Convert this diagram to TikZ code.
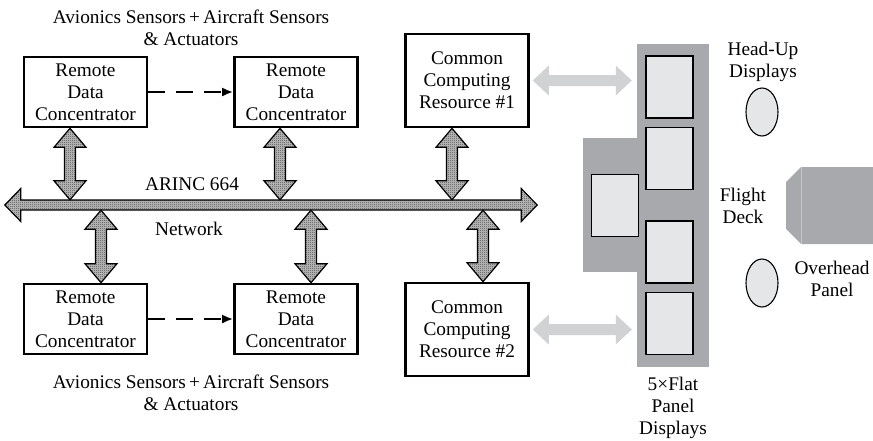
\documentclass[tikz,border=0pt]{standalone}
\usepackage{fontspec}
\setmainfont{Liberation Serif}
\usetikzlibrary{shapes.geometric,arrows.meta,calc,patterns.meta}
\definecolor{panelgray}{HTML}{A8A9AC}
\definecolor{screen}{HTML}{E5E6E8}
\definecolor{lightarrow}{HTML}{D1D2D4}
\tikzdeclarepattern{
  name=chk, type=uncolored,
  bottom left={(0pt,0pt)}, top right={(2pt,2pt)}, tile size={(2pt,2pt)},
  code={\fill (0pt,0pt) rectangle (1pt,1pt); \fill (1pt,1pt) rectangle (2pt,2pt);}
}
\newcommand{\fath}[6]{\path[#1] let \p1=(#2), \p2=(#3) in
  (\x1,\y1) -- (\x1+#6pt,\y1+#5pt) -- (\x1+#6pt,\y1+#4pt) -- (\x2-#6pt,\y1+#4pt) -- (\x2-#6pt,\y1+#5pt) -- (\x2,\y1)
  -- (\x2-#6pt,\y1-#5pt) -- (\x2-#6pt,\y1-#4pt) -- (\x1+#6pt,\y1-#4pt) -- (\x1+#6pt,\y1-#5pt) -- cycle;}
\newcommand{\fatv}[6]{\path[#1] let \p1=(#2), \p2=(#3) in
  (\x1,\y1) -- (\x1+#5pt,\y1-#6pt) -- (\x1+#4pt,\y1-#6pt) -- (\x1+#4pt,\y2+#6pt) -- (\x1+#5pt,\y2+#6pt) -- (\x1,\y2)
  -- (\x1-#5pt,\y2+#6pt) -- (\x1-#4pt,\y2+#6pt) -- (\x1-#4pt,\y1-#6pt) -- (\x1-#5pt,\y1-#6pt) -- cycle;}
\tikzset{
  txt/.style={font=\fontsize{19.3}{22}\selectfont, align=center, inner sep=0pt},
  box/.style={txt, draw, line width=2.6pt, minimum width=123pt, minimum height=70pt},
  ccrbox/.style={box, minimum height=93pt},
  fatarrow/.style={draw=black, line width=1.2pt, line join=miter, preaction={fill=gray!45}, pattern=chk, pattern color=black!90},
  lightarr/.style={fill=lightarrow, draw=none},
  busnode/.style={minimum width=532pt, minimum height=10pt, inner sep=0pt, draw=none},
  panelbox/.style={fill=panelgray, draw=none, inner sep=0pt},
  screenbox/.style={fill=screen, draw=black, line width=1.2pt, minimum width=47pt, minimum height=62pt, inner sep=0pt},
  hud/.style={ellipse, fill=screen, draw=black, line width=1.1pt, minimum width=32pt, minimum height=48pt, inner sep=0pt},
  dasharrow/.style={line width=2.3pt, dash pattern=on 17pt off 11pt, -{Latex[length=11pt,width=9pt]}}
}
\begin{document}
\begin{tikzpicture}[x=1pt,y=-1pt]
\useasboundingbox (0,0) rectangle (873,440);
% boxes
\node[box] (rdcA) at (85.5,92) {Remote\\Data\\Concentrator};
\node[box] (rdcB) at (296,92) {Remote\\Data\\Concentrator};
\node[ccrbox] (ccr1) at (467,80.5) {Common\\Computing\\Resource \#1};
\node[box] (rdcC) at (85.5,319) {Remote\\Data\\Concentrator};
\node[box] (rdcD) at (296,319) {Remote\\Data\\Concentrator};
\node[ccrbox] (ccr2) at (467,329.5) {Common\\Computing\\Resource \#2};
% captions
\node[txt] (capT) at (191,27.5) {Avionics Sensors\,+\,Aircraft Sensors\\\& Actuators};
\node[txt] (capB) at (191,393) {Avionics Sensors\,+\,Aircraft Sensors\\\& Actuators};
% dashed
\draw[dasharrow] (rdcA.east) -- (rdcB.west);
\draw[dasharrow] (rdcC.east) -- (rdcD.west);
% bus
\node[busnode] (bus) at (271,205) {};
\fath{fatarrow}{bus.west}{bus.east}{5}{16.5}{16}
\node[txt] (arinc) at (192,184) {ARINC 664};
\node[txt] (net) at (189,229) {Network};
% vertical arrows
\fatv{fatarrow}{$(rdcA.south)+(-15.5,0)$}{bus.north}{5.5}{16}{19}
\fatv{fatarrow}{$(rdcB.south)+(-16,0)$}{bus.north}{5.5}{16}{19}
\fatv{fatarrow}{$(ccr1.south)+(-15,0)$}{bus.north}{5.5}{16}{19}
\fatv{fatarrow}{$(rdcC.north |- bus.south)+(15.5,0)$}{rdcC.north}{5.5}{16}{19}
\fatv{fatarrow}{$(rdcD.north |- bus.south)+(15,0)$}{rdcD.north}{5.5}{16}{19}
\fatv{fatarrow}{$(ccr2.north |- bus.south)+(16,0)$}{ccr2.north}{5.5}{16}{19}
% panel
\node[panelbox, minimum width=72pt, minimum height=323pt] (panel) at (673,205.5) {};
\node[panelbox, minimum width=56pt, minimum height=134pt] (ext) at (611,205) {};
\node[screenbox] (d1) at (669.5,87) {};
\node[screenbox] (d2) at (669.5,158.5) {};
\node[screenbox] (d3) at (615,205.5) {};
\node[screenbox] (d4) at (669.5,252) {};
\node[screenbox] (d5) at (669.5,323.5) {};
% light arrows
\fath{lightarr}{$(ccr1.east)+(3,0)$}{$(panel.west |- ccr1.east)+(-5,0)$}{5.5}{15}{16}
\fath{lightarr}{$(ccr2.east)+(3,0)$}{$(panel.west |- ccr2.east)+(-5,0)$}{5.5}{15}{16}
\node[txt] (flat) at (673,408) {5×Flat\\Panel\\Displays};
% flight deck
\node[hud] (hud1) at (762,112) {};
\node[hud] (hud2) at (762,283) {};
\fill[panelgray] (801,167) -- (873,167) -- (873,244) -- (801,244) -- (786,229) -- (786,182) -- cycle;
\draw[gray!45, line width=0.8pt] (801,167) -- (801,244);
\node[txt] (hudlbl) at (763,61.5) {Head-Up\\Displays};
\node[txt] (fdlbl) at (743,206) {Flight\\Deck};
\node[txt] (ovlbl) at (832,279) {Overhead\\Panel};
\end{tikzpicture}
\end{document}
